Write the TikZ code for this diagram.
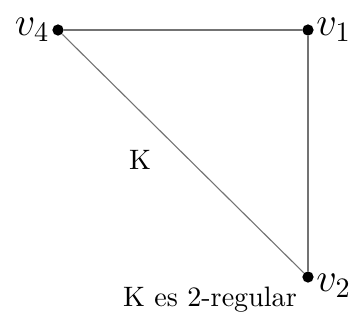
\documentclass[tikz,border=0pt]{standalone}
\usepackage{amsmath,amssymb}
\usetikzlibrary{positioning}
\tikzset{
  vertexdot/.style={circle, fill=black, inner sep=0pt, minimum size=4pt},
  vlabel/.style={font=\Large, inner sep=0.6pt},
  edgeline/.style={black!55, line width=0.4pt},
}
\begin{document}
\begin{tikzpicture}[x=0.125cm, y=-0.125cm]
  \useasboundingbox (0,0) rectangle (35,32);
  \node[vertexdot, label={[vlabel]left:$v_4$}] (v4) at (5.8,3.0) {};
  \node[vertexdot, label={[vlabel]right:$v_1$}] (v1) at (30.8,3.0) {};
  \node[vertexdot, label={[vlabel, yshift=-1.1mm]right:$v_2$}] (v2) at (30.8,27.7) {};
  \draw[edgeline] (v4)--(v1); \draw[edgeline] (v1)--(v2); \draw[edgeline] (v4)--(v2);
  \node (k) at (14.0,16.0) {K};
  \node (caption) at (21.0,30.0) {K es 2-regular};
\end{tikzpicture}
\end{document}
